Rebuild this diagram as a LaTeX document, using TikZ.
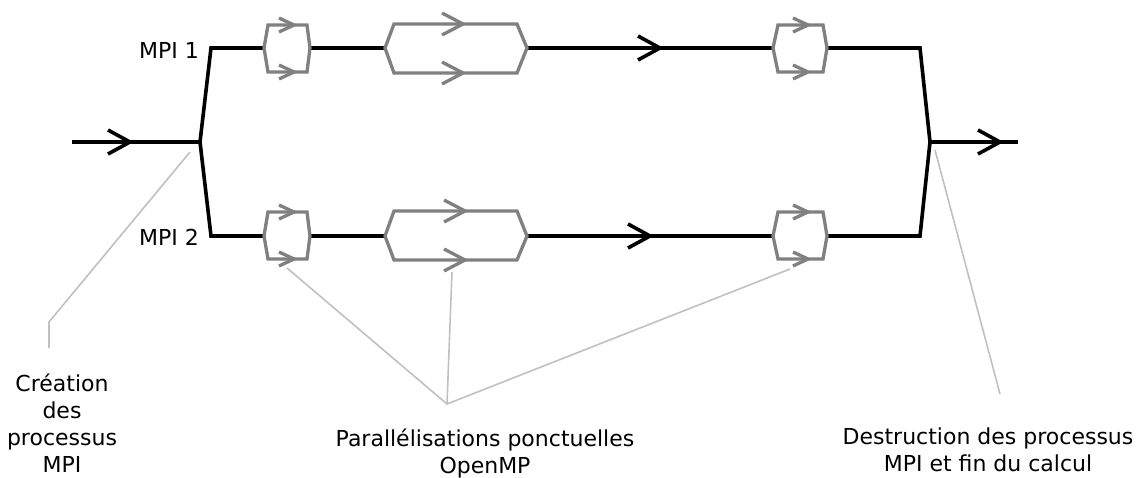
\documentclass[tikz,border=0pt]{standalone}
\usepackage{fontspec}
\setmainfont{DejaVu Sans}
\begin{document}
\begin{tikzpicture}[x=1pt,y=-1pt,
  flow/.style={line width=3.6pt,black,line join=miter},
  omp/.style={line width=3.3pt,color={rgb,255:red,128;green,128;blue,128},line join=miter},
  lead/.style={line width=1.6pt,color={rgb,255:red,192;green,192;blue,192}},
  lbl/.style={font=\fontsize{22}{27}\selectfont,inner sep=0pt,align=center},
  bchev/.pic={\draw[flow] (-22,-12) -- (0,0) -- (-22,12);},
  schev/.pic={\draw[omp] (-15,-7) -- (0,0) -- (-15,7);},
  mchev/.pic={\draw[omp] (-21,-11) -- (0,0) -- (-21,11);}]
\useasboundingbox (0,0) rectangle (1146,477);
% key points
\coordinate (in) at (72,142);
\coordinate (forkL) at (200,142);
\coordinate (forkR) at (930,142);
\coordinate (out) at (1018,142);
\coordinate (t0) at (211,48);
\coordinate (b0) at (211,236);
\coordinate (t1) at (264,48);  \coordinate (t2) at (310,48);
\coordinate (t3) at (385,48);  \coordinate (t4) at (527,48);
\coordinate (t5) at (773,48);  \coordinate (t6) at (827,48);
\coordinate (t7) at (920,48);
\coordinate (b1) at (264,236); \coordinate (b2) at (310,236);
\coordinate (b3) at (385,236); \coordinate (b4) at (527,236);
\coordinate (b5) at (773,236); \coordinate (b6) at (827,236);
\coordinate (b7) at (920,236);
% black flow
\draw[flow] (in) -- (forkL);
\draw[flow] (t1) -- (t0) -- (forkL) -- (b0) -- (b1);
\draw[flow] (t2) -- (t3);
\draw[flow] (t4) -- (t5);
\draw[flow] (t6) -- (t7) -- (forkR) -- (b7) -- (b6);
\draw[flow] (b2) -- (b3);
\draw[flow] (b4) -- (b5);
\draw[flow] (forkR) -- (out);
\pic at (130,142) {bchev};
\pic at (660,48) {bchev};
\pic at (650,236) {bchev};
\pic at (1000,142) {bchev};
% OpenMP regions, top row
\draw[omp] (t1) -- (268,25) -- (307,25) -- (t2) -- (307,72) -- (268,72) -- cycle;
\pic at (294,25) {schev}; \pic at (294,72) {schev};
\draw[omp] (t3) -- (394,24) -- (517,24) -- (t4) -- (517,73) -- (394,73) -- cycle;
\pic at (463,24) {mchev}; \pic at (463,73) {mchev};
\draw[omp] (t5) -- (778,25) -- (823,25) -- (t6) -- (823,72) -- (778,72) -- cycle;
\pic at (808,25) {schev}; \pic at (808,72) {schev};
% OpenMP regions, bottom row
\draw[omp] (b1) -- (268,212) -- (307,212) -- (b2) -- (307,259) -- (268,259) -- cycle;
\pic at (294,212) {schev}; \pic at (294,259) {schev};
\draw[omp] (b3) -- (394,211) -- (517,211) -- (b4) -- (517,260) -- (394,260) -- cycle;
\pic at (465,211) {mchev}; \pic at (465,260) {mchev};
\draw[omp] (b5) -- (778,212) -- (823,212) -- (b6) -- (823,259) -- (778,259) -- cycle;
\pic at (808,212) {schev}; \pic at (808,259) {schev};
% labels
\node[lbl,anchor=east] (mpi1) at (199,50) {MPI 1};
\node[lbl,anchor=east] (mpi2) at (199,237) {MPI 2};
\node[lbl] (crea) at (62,423) {Création\\des\\processus\\MPI};
\node[lbl] (para) at (485,453) {Parallélisations ponctuelles\\OpenMP};
\node[lbl] (dest) at (988,450) {Destruction des processus\\MPI et fin du calcul};
% leaders
\coordinate (c1) at (190,152); \coordinate (c2) at (49,322); \coordinate (c3) at (49,348);
\draw[lead] (c1) -- (c2) -- (c3);
\coordinate (p0) at (447,404);
\coordinate (p1) at (287,268); \coordinate (p2) at (452,272); \coordinate (p3) at (790,269);
\draw[lead] (p1) -- (p0) -- (p3);
\draw[lead] (p2) -- (p0);
\coordinate (d1) at (935,150); \coordinate (d2) at (1000,394);
\draw[lead] (d1) -- (d2);
\end{tikzpicture}
\end{document}
